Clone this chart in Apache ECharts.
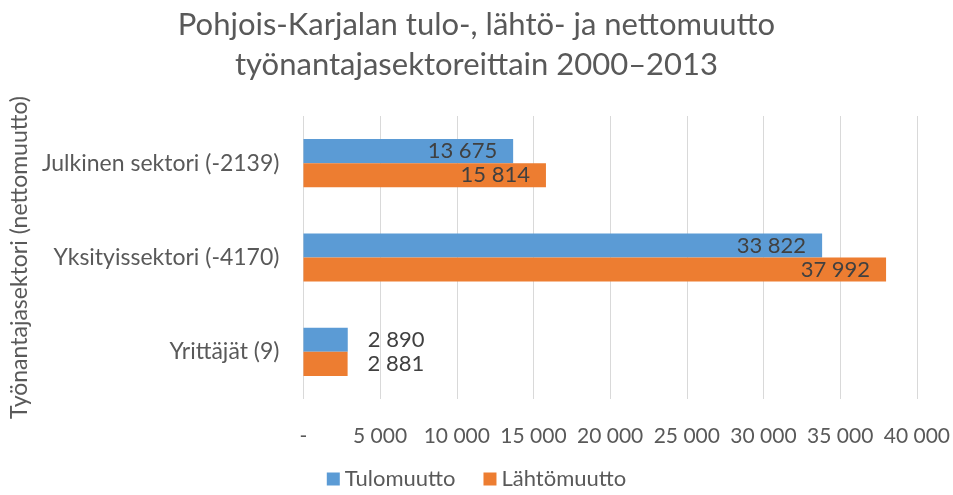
<!DOCTYPE html>
<html>
<head>
<meta charset="utf-8">
<script src="https://cdn.jsdelivr.net/npm/echarts@6/dist/echarts.min.js"></script>
<style>html,body{margin:0;padding:0;background:#fff}#c{width:953px;height:495px}</style>
</head>
<body>
<div id="c"></div>
<script>
const titleText = "Pohjois-Karjalan tulo-, lähtö- ja nettomuutto\ntyönantajasektoreittain 2000–2013";
const yAxisName = "Työnantajasektori (nettomuutto)";
const categories = ["Julkinen sektori (-2139)", "Yksityissektori (-4170)", "Yrittäjät (9)"];
const seriesNames = ["Tulomuutto", "Lähtömuutto"];
const tulomuutto = [13675, 33822, 2890];
const lahtomuutto = [15814, 37992, 2881];
const xTicks = [0, 5000, 10000, 15000, 20000, 25000, 30000, 35000, 40000];

const fmt = v => v === 0 ? "-" : String(v).replace(/\B(?=(\d{3})+(?!\d))/g, " ");
const FONT = "Lato";
const labelFor = (vals) => vals.map((v, i) => ({
  value: v,
  label: i === 2 ? { position: "right", distance: 20 } : { position: "insideRight", distance: 16 }
}));

const chart = echarts.init(document.getElementById("c"));
chart.setOption({
  animation: false,
  textStyle: { fontFamily: FONT },
  title: {
    text: titleText, left: "center", top: 0,
    textStyle: { fontFamily: FONT, fontSize: 31, fontWeight: "normal", color: "#595959", lineHeight: 40 }
  },
  legend: {
    bottom: 0, left: "center", itemWidth: 13, itemHeight: 13, itemGap: 28, icon: "rect",
    textStyle: { fontFamily: FONT, fontSize: 22, color: "#595959" },
    data: seriesNames
  },
  grid: { left: 302, right: 32, top: 116, bottom: 96 },
  xAxis: {
    type: "value", min: xTicks[0], max: xTicks[xTicks.length - 1], interval: 5000,
    axisLine: { show: false }, axisTick: { show: false },
    splitLine: { lineStyle: { color: "#D9D9D9", width: 1 } },
    axisLabel: { fontFamily: FONT, fontSize: 21, color: "#595959", margin: 27, formatter: fmt }
  },
  yAxis: {
    type: "category", data: categories, inverse: true,
    name: yAxisName, nameLocation: "middle", nameGap: 272, nameRotate: 90,
    nameTextStyle: { fontFamily: FONT, fontSize: 23, color: "#595959" },
    axisLine: { show: false }, axisTick: { show: false },
    axisLabel: { fontFamily: FONT, fontSize: 23, color: "#595959", margin: 24 }
  },
  series: [
    {
      name: seriesNames[0], type: "bar", data: labelFor(tulomuutto), barCategoryGap: "49%", barGap: "0%",
      itemStyle: { color: "#5B9BD5" },
      label: { show: true, fontFamily: FONT, fontSize: 22, color: "#404040", formatter: p => fmt(p.value) }
    },
    {
      name: seriesNames[1], type: "bar", data: labelFor(lahtomuutto), barCategoryGap: "49%", barGap: "0%",
      itemStyle: { color: "#ED7D31" },
      label: { show: true, fontFamily: FONT, fontSize: 22, color: "#404040", formatter: p => fmt(p.value) }
    }
  ]
});
</script>
</body>
</html>
